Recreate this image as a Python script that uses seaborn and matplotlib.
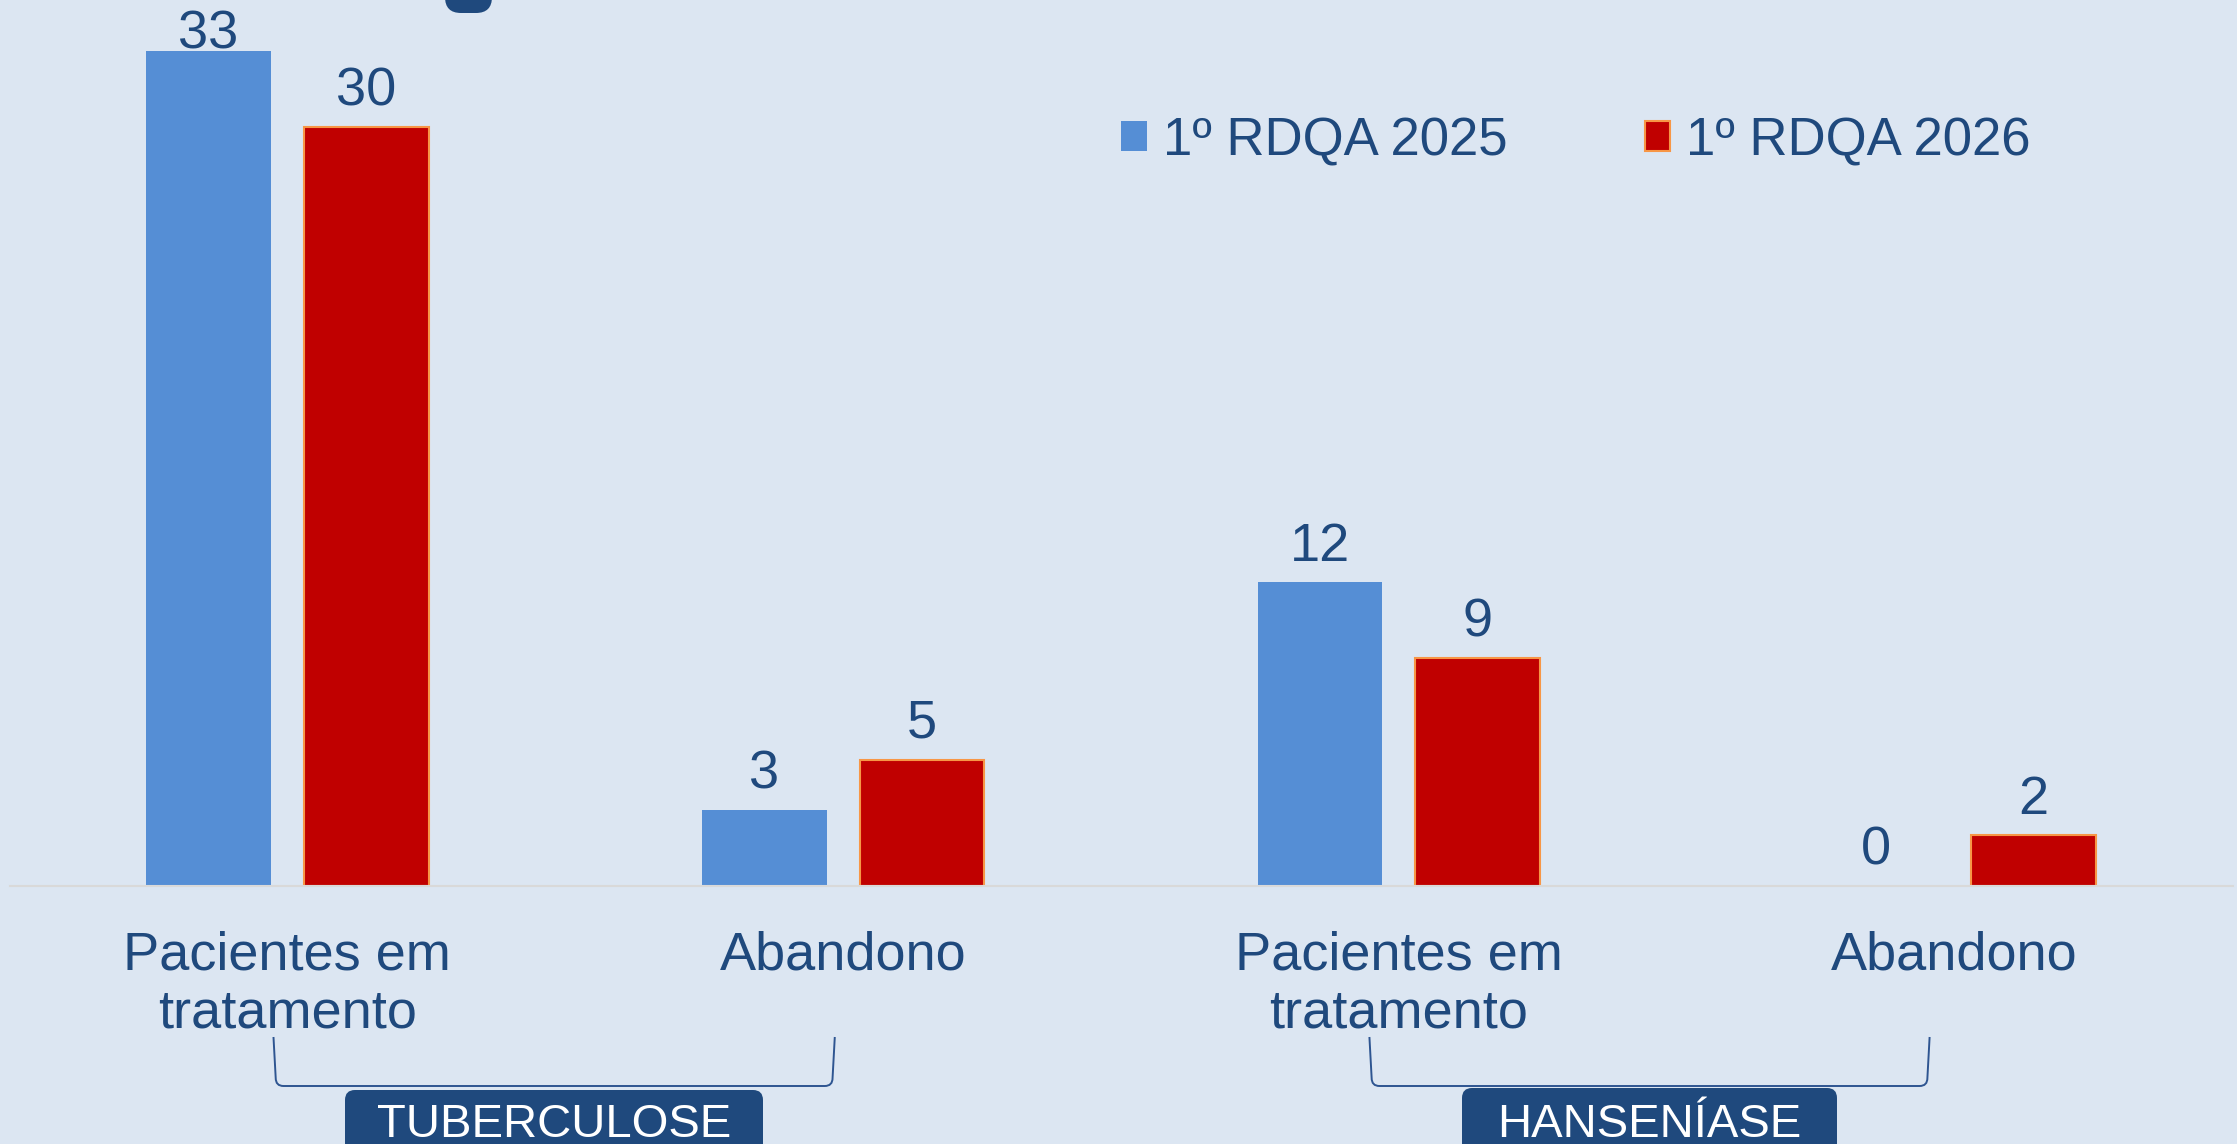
import matplotlib
matplotlib.use("Agg")
import numpy as np
import pandas as pd
import matplotlib.pyplot as plt
from matplotlib.patches import FancyBboxPatch, PathPatch, Patch
from matplotlib.path import Path
from matplotlib.transforms import Affine2D, blended_transform_factory
import seaborn as sns

# ---- data -------------------------------------------------------------
diseases = ["TUBERCULOSE", "HANSENÍASE"]
indicators = ["Pacientes em\ntratamento", "Abandono"]
series = ["1º RDQA 2025", "1º RDQA 2026"]
values_2025 = [33, 3, 12, 0]
values_2026 = [30, 5, 9, 2]

# ---- style ------------------------------------------------------------
BG = "#DCE6F2"
BLUE = "#558ED5"
RED = "#C00000"
RED_EDGE = "#F79646"
NAVY = "#1F497D"
BRACKET = "#2E5591"

sns.set_style("white")
plt.rcParams["font.family"] = ["Liberation Sans", "DejaVu Sans"]

W, H = 2237, 1144
fig = plt.figure(figsize=(W / 100, H / 100), dpi=100, facecolor=BG)
ax = fig.add_axes([9.5 / W, (H - 886) / H, 2223 / W, 886 / H])
ax.set_facecolor(BG)

keys = [f"{d} | {i}" for d in diseases for i in indicators]
tick_labels = [i for d in diseases for i in indicators]
df = pd.DataFrame({
    "grupo": keys * 2,
    "serie": [series[0]] * 4 + [series[1]] * 4,
    "valor": values_2025 + values_2026,
})

sns.barplot(data=df, x="grupo", y="valor", hue="serie", order=keys,
            hue_order=series, palette=[BLUE, RED], saturation=1,
            width=0.568, gap=0.21, ax=ax, legend=False, errorbar=None)

for bar in ax.containers[0]:
    bar.set_edgecolor(BLUE)
    bar.set_linewidth(0)
for bar in ax.containers[1]:
    bar.set_edgecolor(RED_EDGE)
    bar.set_linewidth(1.5)

YMAX = 886 / 25.3
ax.set_ylim(0, YMAX)
ax.set_xlim(-0.5, 3.5)

# value labels above each bar
for cont, vals in zip(ax.containers, [values_2025, values_2026]):
    for bar, v in zip(cont, vals):
        xc = bar.get_x() + bar.get_width() / 2
        yb = min(v + 0.86, YMAX - 1.9)
        ax.text(xc, yb, f"{v}", ha="center", va="baseline",
                fontsize=39, color=NAVY)

# axes cosmetics
for s in ["left", "right", "top"]:
    ax.spines[s].set_visible(False)
ax.spines["bottom"].set_color("#D9D9D9")
ax.spines["bottom"].set_linewidth(1.5)
ax.set_yticks([])
ax.set_xticks(range(len(keys)))
ax.set_xticklabels(tick_labels, fontsize=39, color=NAVY, linespacing=1.2)
ax.tick_params(axis="x", length=0, pad=32)
ax.set_xlabel("")
ax.set_ylabel("")

# legend
handles = [Patch(facecolor=BLUE, edgecolor=BLUE, linewidth=0),
           Patch(facecolor=RED, edgecolor=RED_EDGE, linewidth=1.5)]
fig.legend(handles, series, loc="center left",
           bbox_to_anchor=(1121 / W, 1 - 141 / H), bbox_transform=fig.transFigure,
           ncol=2, frameon=False, fontsize=38, labelcolor=NAVY,
           handlelength=0.49, handleheight=0.49, handletextpad=0.3,
           columnspacing=2.6, borderpad=0, borderaxespad=0)

# pixel coordinates measured from the top-left corner
TOP = Affine2D().scale(1, -1).translate(0, H).scale(1 / 100) + fig.dpi_scale_trans
XTOP = blended_transform_factory(ax.transData, TOP)


def bracket(x0, x1, y0=1037, y1=1086, r=0.014, slant=0.004):
    verts = [(x0, y0), (x0 + slant, y1 - 8), (x0 + slant, y1), (x0 + slant + r, y1),
             (x1 - slant - r, y1), (x1 - slant, y1), (x1 - slant, y1 - 8), (x1, y0)]
    codes = [Path.MOVETO, Path.LINETO, Path.CURVE3, Path.CURVE3,
             Path.LINETO, Path.CURVE3, Path.CURVE3, Path.LINETO]
    fig.add_artist(PathPatch(Path(verts, codes), transform=XTOP, fill=False,
                             edgecolor=BRACKET, linewidth=1.4, clip_on=False))


bracket(-0.025, 0.985)
bracket(1.947, 2.955)


def tag(x0, x1, ytop, text, cx):
    fig.add_artist(FancyBboxPatch((x0, ytop), x1 - x0, 80,
                                  boxstyle="round,pad=0,rounding_size=10",
                                  transform=TOP, facecolor=NAVY, edgecolor="none",
                                  clip_on=False))
    fig.text(cx, 1137, text, transform=TOP, ha="center", va="baseline",
             fontsize=34, color="white")


tag(345, 763, 1090, diseases[0], 554)
tag(1462, 1837, 1088, diseases[1], 1649.5)

# lower edge of the heading box above the chart
fig.add_artist(FancyBboxPatch((445, -45), 47, 58,
                              boxstyle="round,pad=0,rounding_size=16",
                              transform=TOP, facecolor=NAVY, edgecolor="none",
                              clip_on=False))

fig.savefig("out.png", dpi=100, facecolor=BG)
